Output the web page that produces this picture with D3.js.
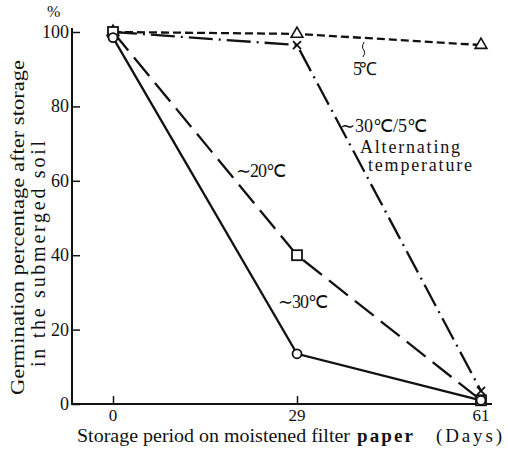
<!DOCTYPE html>
<html>
<head>
  <title>germination</title>
  <script src="https://d3js.org/d3.v7.min.js"></script>
  <style>
    body { margin: 0; background: #fff; }
    svg text { font-family: "Liberation Serif", "Times New Roman", serif; fill: #111; }
  </style>
</head>
<body>
  <svg width="508" height="451" id="mainsvg"></svg>
  <script>
    // data
    const days = ["0", "29", "61"];
    const yTicks = [0, 20, 40, 60, 80, 100];
    const t5 = [100, 99.5, 96.5];          // 5℃, triangles
    const tAlt = [100, 96.5, 3.5];         // ~30℃/5℃ alternating, crosses
    const t20 = [100, 40, 1];              // ~20℃, squares
    const t30 = [98.5, 13.5, 1];           // ~30℃, circles

    const series = [
      { name: "5", vals: t5, dash: "8,4", mark: "tri" },
      { name: "alt", vals: tAlt, dash: "24,6,2,6", mark: "x" },
      { name: "20", vals: t20, dash: "24,9", mark: "sq" },
      { name: "30", vals: t30, dash: null, mark: "circ" }
    ];

    const svg = d3.select('#mainsvg');
    const x = d3.scalePoint().domain(days).range([113, 481]);
    const y = d3.scaleLinear().domain([0, 100]).range([404, 32]);

    // axes
    svg.append('line').attr('x1', 72).attr('x2', 72).attr('y1', 28).attr('y2', 405)
      .attr('stroke', '#111').attr('stroke-width', 2);
    svg.append('line').attr('x1', 71).attr('x2', 492).attr('y1', 404).attr('y2', 404)
      .attr('stroke', '#111').attr('stroke-width', 2);

    const yAxis = d3.axisRight(y).tickValues(yTicks).tickSize(8).tickFormat('');
    svg.append('g').attr('transform', 'translate(72,0)').call(yAxis)
      .call(g => g.select('.domain').remove())
      .call(g => g.selectAll('line').attr('stroke', '#111').attr('stroke-width', 1.5));
    svg.selectAll('.ylab').data(yTicks).enter().append('text')
      .attr('x', 69).attr('y', d => y(d) + 6).attr('text-anchor', 'end')
      .attr('font-size', 18).text(d => d);

    const xAxis = d3.axisTop(x).tickSize(8).tickFormat('');
    svg.append('g').attr('transform', 'translate(0,404)').call(xAxis)
      .call(g => g.select('.domain').remove())
      .call(g => g.selectAll('line').attr('stroke', '#111').attr('stroke-width', 1.5));
    svg.selectAll('.xlab').data(days).enter().append('text')
      .attr('x', d => x(d)).attr('y', 421).attr('text-anchor', 'middle')
      .attr('font-size', 17).text(d => d);

    svg.append('text').attr('x', 47).attr('y', 17).attr('font-size', 16).text('%');

    // axis titles
    svg.append('text').attr('font-size', 18)
      .attr('transform', 'translate(24,395) rotate(-90)')
      .attr('textLength', 335).attr('lengthAdjust', 'spacingAndGlyphs')
      .text('Germination percentage after storage');
    svg.append('text').attr('font-size', 20)
      .attr('transform', 'translate(45,367) rotate(-90)')
      .attr('textLength', 226).attr('lengthAdjust', 'spacing')
      .text('in the submerged soil');

    const xTitle = [
      { t: 'Storage period on moistened filter', x: 77, w: 273, b: false, adj: 'spacingAndGlyphs' },
      { t: 'paper', x: 357, w: 56, b: true, adj: 'spacing' },
      { t: '(Days)', x: 436, w: 66, b: false, adj: 'spacing' }
    ];
    svg.selectAll('.xt').data(xTitle).enter().append('text')
      .attr('x', d => d.x).attr('y', 442).attr('font-size', 19)
      .attr('font-weight', d => d.b ? 'bold' : null)
      .attr('textLength', d => d.w).attr('lengthAdjust', d => d.adj)
      .text(d => d.t);

    // lines
    const line = d3.line().x((d, i) => x(days[i])).y(d => y(d));
    svg.selectAll('.series').data(series).enter().append('path')
      .attr('d', d => line(d.vals)).attr('fill', 'none')
      .attr('stroke', '#111').attr('stroke-width', 2.3)
      .attr('stroke-dasharray', d => d.dash);

    // markers
    series.forEach(s => {
      const g = svg.append('g');
      s.vals.forEach((v, i) => {
        const cx = x(days[i]), cy = y(v);
        if (s.mark === 'circ') {
          g.append('circle').attr('cx', cx).attr('cy', cy).attr('r', 4.5)
            .attr('fill', '#fff').attr('stroke', '#111').attr('stroke-width', 1.8);
        } else if (s.mark === 'sq') {
          g.append('rect').attr('x', cx - 5).attr('y', cy - 5).attr('width', 10).attr('height', 10)
            .attr('fill', '#fff').attr('stroke', '#111').attr('stroke-width', 1.8);
        } else if (s.mark === 'tri') {
          g.append('path').attr('d', d3.symbol(d3.symbolTriangle, 60)())
            .attr('transform', `translate(${cx},${cy})`)
            .attr('fill', '#fff').attr('stroke', '#111').attr('stroke-width', 1.6);
        } else {
          g.append('path').attr('d', `M${cx - 4},${cy - 4}L${cx + 4},${cy + 4}M${cx - 4},${cy + 4}L${cx + 4},${cy - 4}`)
            .attr('stroke', '#111').attr('stroke-width', 1.8);
        }
      });
    });

    // annotations
    const ann = [
      { t: '5℃', x: 353, y: 75, w: 24 },
      { t: '∼30℃/5℃', x: 340, y: 132, w: 87 },
      { t: 'Alternating', x: 360, y: 153, w: 100 },
      { t: 'temperature', x: 368, y: 171, w: 104 },
      { t: '∼20℃', x: 236, y: 177, w: 50 },
      { t: '∼30℃', x: 278, y: 308, w: 50 }
    ];
    svg.selectAll('.ann').data(ann).enter().append('text')
      .attr('x', d => d.x).attr('y', d => d.y).attr('font-size', 18)
      .attr('textLength', d => d.w).attr('lengthAdjust', 'spacing')
      .text(d => d.t);
    svg.append('path').attr('d', 'M364,42 Q361,48 364,50 Q366,53 363,57')
      .attr('fill', 'none').attr('stroke', '#111').attr('stroke-width', 1);
  </script>
</body>
</html>
